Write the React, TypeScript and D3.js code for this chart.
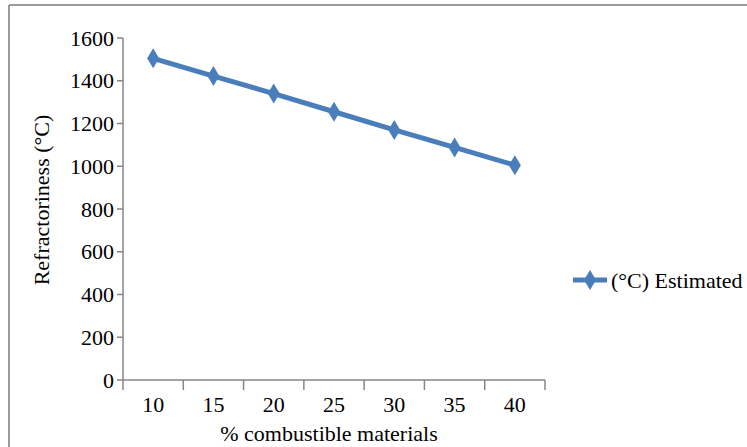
import React from "react";
import * as d3 from "d3";

const categories = ["10", "15", "20", "25", "30", "35", "40"];
const estimated = [1505, 1422, 1340, 1255, 1170, 1088, 1005];
const yTicks = [0, 200, 400, 600, 800, 1000, 1200, 1400, 1600];
const seriesName = "(°C) Estimated";
const xTitle = "% combustible materials";
const yTitle = "Refractoriness (°C)";

const W = 747;
const H = 447;
const left = 123;
const right = 545;
const top = 38;
const bottom = 380;
const FONT = "'Liberation Serif', 'Times New Roman', serif";
const FS = 22;
const BLUE = "#4a7ebb";
const AXIS = "#868686";

export default function App() {
  const x = d3.scaleBand<string>().domain(categories).range([left, right]).padding(0);
  const y = d3.scaleLinear().domain([0, 1600]).range([bottom, top]);
  const cx = (c: string) => (x(c) as number) + x.bandwidth() / 2;
  const line = d3
    .line<number>()
    .x((_, i) => cx(categories[i]))
    .y((d) => y(d));
  const diamond = (px: number, py: number) =>
    `M${px},${py - 10}L${px + 6},${py}L${px},${py + 10}L${px - 6},${py}Z`;
  const boundaries = [...categories.map((c) => x(c) as number), right];

  return (
    <svg
      width={W}
      height={H}
      style={{ position: "absolute", left: 0, top: 0, background: "#fff" }}
      fontFamily={FONT}
    >
      <rect x={0} y={0} width={W} height={H} fill="#fff" />
      <line x1={9} y1={5} x2={W} y2={5} stroke="#9a9a9a" strokeWidth={2} />
      <line x1={9} y1={5} x2={9} y2={H} stroke="#9a9a9a" strokeWidth={2} />

      {/* y axis */}
      <line x1={left} y1={top} x2={left} y2={bottom} stroke={AXIS} strokeWidth={1.5} />
      {yTicks.map((t) => (
        <g key={t}>
          <line x1={left - 6} x2={left} y1={y(t)} y2={y(t)} stroke={AXIS} strokeWidth={1.5} />
          <text x={left - 9} y={y(t)} dy="0.35em" textAnchor="end" fontSize={FS} fill="#000">
            {t}
          </text>
        </g>
      ))}

      {/* x axis */}
      <line x1={left} y1={bottom} x2={right} y2={bottom} stroke={AXIS} strokeWidth={1.5} />
      {boundaries.map((b, i) => (
        <line key={i} x1={b} x2={b} y1={bottom} y2={bottom + 10} stroke={AXIS} strokeWidth={1.5} />
      ))}
      {categories.map((c) => (
        <text key={c} x={cx(c)} y={412} textAnchor="middle" fontSize={FS} fill="#000">
          {c}
        </text>
      ))}

      <text x={329} y={441} textAnchor="middle" fontSize={FS} fill="#000">
        {xTitle}
      </text>
      <text
        transform={`translate(49,200) rotate(-90)`}
        textAnchor="middle"
        fontSize={FS}
        fill="#000"
      >
        {yTitle}
      </text>

      {/* series */}
      <path d={line(estimated) as string} fill="none" stroke={BLUE} strokeWidth={5} strokeLinejoin="round" />
      {estimated.map((v, i) => (
        <path key={i} d={diamond(cx(categories[i]), y(v))} fill={BLUE} />
      ))}

      {/* legend */}
      <line x1={573} x2={607} y1={280} y2={280} stroke={BLUE} strokeWidth={5} />
      <path d={diamond(590, 280)} fill={BLUE} />
      <text x={611} y={280} dy="0.35em" fontSize={FS} fill="#000">
        {seriesName}
      </text>
    </svg>
  );
}
